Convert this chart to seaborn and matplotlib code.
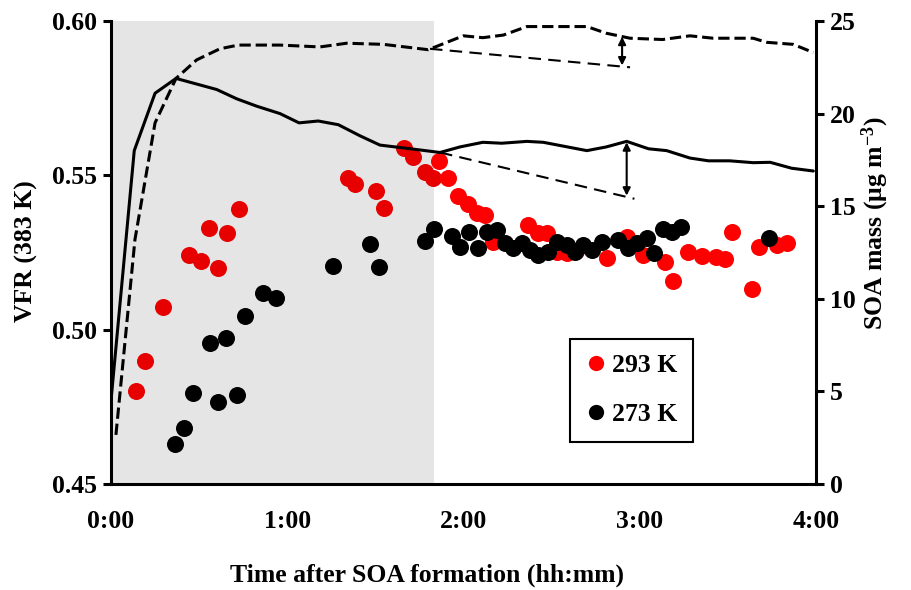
import numpy as np
import pandas as pd
import matplotlib
matplotlib.use("Agg")
import matplotlib.pyplot as plt
from matplotlib.lines import Line2D
import seaborn as sns

# ---------------- data ----------------
solid_time = [0.0, 0.132, 0.25, 0.369, 0.60, 0.713, 0.827, 0.959, 1.067, 1.176, 1.29,
              1.413, 1.526, 1.70, 1.867, 1.98, 2.11, 2.217, 2.36, 2.453, 2.70, 2.81,
              2.926, 3.05, 3.153, 3.285, 3.39, 3.51, 3.644, 3.74, 3.862, 3.985]
solid_mass = [4.5, 18.0, 21.1, 21.9, 21.3, 20.8, 20.4, 20.0, 19.5, 19.6, 19.4,
              18.8, 18.3, 18.1, 17.9, 18.2, 18.45, 18.4, 18.5, 18.45, 18.0, 18.2,
              18.5, 18.1, 18.0, 17.6, 17.45, 17.45, 17.35, 17.37, 17.05, 16.9]

dash_time = [0.028, 0.136, 0.25, 0.369, 0.486, 0.618, 0.722, 0.959, 1.186, 1.337, 1.545,
             1.80, 1.999, 2.11, 2.226, 2.36, 2.70, 2.81, 2.945, 3.13, 3.285, 3.417,
             3.644, 3.72, 3.87, 3.985]
dash_mass = [2.65, 13.2, 19.5, 21.9, 22.9, 23.5, 23.7, 23.7, 23.6, 23.8, 23.74,
             23.45, 24.2, 24.1, 24.24, 24.7, 24.7, 24.34, 24.07, 24.0, 24.2, 24.07,
             24.07, 23.85, 23.74, 23.3]

red_time = [0.144, 0.195, 0.293, 0.444, 0.511, 0.558, 0.609, 0.656, 0.728, 1.343, 1.384,
            1.502, 1.549, 1.662, 1.712, 1.782, 1.825, 1.863, 1.914, 1.967, 2.024, 2.075,
            2.122, 2.169, 2.368, 2.424, 2.472, 2.529, 2.586, 2.64, 2.813, 2.926, 3.02,
            3.143, 3.19, 3.274, 3.351, 3.433, 3.484, 3.522, 3.635, 3.677, 3.78, 3.834]
red_vfr = [0.4801, 0.4899, 0.5074, 0.5243, 0.5223, 0.5328, 0.5199, 0.5312, 0.5391, 0.5490,
           0.5471, 0.5449, 0.5393, 0.5588, 0.5558, 0.5512, 0.5492, 0.5547, 0.5492, 0.5433,
           0.5406, 0.5377, 0.5371, 0.5285, 0.5339, 0.5312, 0.5312, 0.5253, 0.5247, 0.5255,
           0.5231, 0.5301, 0.5242, 0.5220, 0.5158, 0.5253, 0.5239, 0.5236, 0.5228, 0.5318,
           0.5131, 0.5269, 0.5274, 0.5280]

black_time = [0.365, 0.414, 0.467, 0.605, 0.715, 0.562, 0.651, 0.760, 0.861, 0.934, 1.258,
              1.470, 1.519, 1.783, 1.833, 1.933, 1.98, 2.031, 2.082, 2.132, 2.188, 2.235,
              2.283, 2.33, 2.377, 2.424, 2.481, 2.529, 2.586, 2.633, 2.68, 2.727, 2.784,
              2.878, 2.935, 2.983, 3.039, 3.081, 3.134, 3.181, 3.235, 3.733]
black_vfr = [0.4629, 0.4681, 0.4794, 0.4767, 0.4788, 0.4958, 0.4972, 0.5045, 0.5118, 0.5102,
             0.5206, 0.5278, 0.5204, 0.5287, 0.5326, 0.5303, 0.5268, 0.5317, 0.5264, 0.5317,
             0.5323, 0.5280, 0.5264, 0.5280, 0.5258, 0.5242, 0.5253, 0.5285, 0.5274, 0.5253,
             0.5274, 0.5258, 0.5285, 0.5290, 0.5264, 0.5280, 0.5296, 0.5247, 0.5325, 0.5317,
             0.5334, 0.5296]

shade_end = 1.833
trend_upper_t = [1.81, 2.945]
trend_upper_m = [23.5, 22.5]
trend_lower_t = [1.867, 2.97]
trend_lower_m = [17.9, 15.4]
arrow_upper = (2.90, 24.15, 22.6)
arrow_lower = (2.926, 18.45, 15.57)

x_ticks = [0, 1, 2, 3, 4]
x_tick_labels = ["0:00", "1:00", "2:00", "3:00", "4:00"]
vfr_ticks = [0.45, 0.50, 0.55, 0.60]
vfr_tick_labels = ["0.45", "0.50", "0.55", "0.60"]
mass_ticks = [0, 5, 10, 15, 20, 25]
series_names = ["293 K", "273 K"]

# ---------------- style ----------------
sns.set_theme(style="white")
plt.rcParams["font.family"] = ["Liberation Serif", "DejaVu Serif"]
plt.rcParams["font.weight"] = "bold"
plt.rcParams["axes.labelweight"] = "bold"
plt.rcParams["text.color"] = "black"
plt.rcParams["axes.labelcolor"] = "black"
plt.rcParams["xtick.color"] = "black"
plt.rcParams["ytick.color"] = "black"
plt.rcParams["mathtext.fontset"] = "custom"
plt.rcParams["mathtext.rm"] = "Liberation Serif:bold"
plt.rcParams["mathtext.bf"] = "Liberation Serif:bold"
plt.rcParams["mathtext.default"] = "regular"

FS = 18.5
RED_IN = "#E60000"
RED_OUT = "#FF0000"

fig = plt.figure(figsize=(9.12, 5.90), dpi=100)
ax = fig.add_axes([0.1217, 0.1797, 0.7730, 0.7847])
ax2 = ax.twinx()

ax.axvspan(0, shade_end, color="#E5E5E5", zorder=0, lw=0)

red_df = pd.DataFrame({"t": red_time, "vfr": red_vfr})
black_df = pd.DataFrame({"t": black_time, "vfr": black_vfr})
red_in = red_df[red_df["t"] <= shade_end]
red_out = red_df[red_df["t"] > shade_end]

sns.scatterplot(data=red_in, x="t", y="vfr", color=RED_IN, s=150, linewidth=0, ax=ax, zorder=2)
sns.scatterplot(data=red_out, x="t", y="vfr", color=RED_OUT, s=150, linewidth=0, ax=ax, zorder=2)
sns.scatterplot(data=black_df, x="t", y="vfr", color="black", s=150, linewidth=0, ax=ax, zorder=3)

sns.lineplot(x=solid_time, y=solid_mass, ax=ax2, color="black", lw=2.2, estimator=None, sort=False)
sns.lineplot(x=dash_time, y=dash_mass, ax=ax2, color="black", lw=2.2, estimator=None, sort=False,
             linestyle="--")
ax2.plot(trend_upper_t, trend_upper_m, color="black", lw=1.5, dashes=(6, 3.5))
ax2.plot(trend_lower_t, trend_lower_m, color="black", lw=1.5, dashes=(6, 3.5))
for (t, m0, m1) in [arrow_upper, arrow_lower]:
    ax2.annotate("", xy=(t, m1), xytext=(t, m0),
                 arrowprops=dict(arrowstyle="<|-|>", lw=1.5, color="black",
                                 mutation_scale=11, shrinkA=0, shrinkB=0))

ax.set_xlim(0, 4)
ax.set_ylim(0.45, 0.60)
ax2.set_ylim(0, 25)

ax.set_xticks(x_ticks)
ax.set_xticklabels(x_tick_labels, fontsize=FS, fontweight="bold")
ax.set_yticks(vfr_ticks)
ax.set_yticklabels(vfr_tick_labels, fontsize=FS, fontweight="bold")
ax2.set_yticks(mass_ticks)
ax2.set_yticklabels([str(v) for v in mass_ticks], fontsize=FS, fontweight="bold")

ax.tick_params(axis="x", direction="inout", length=11, width=2.2, pad=13, colors="black")
ax.tick_params(axis="y", direction="out", length=6, width=2.2, pad=4, colors="black")
ax2.tick_params(axis="y", direction="out", length=6, width=2.2, pad=4, colors="black")

for a in (ax, ax2):
    a.spines["top"].set_visible(False)
    for s in a.spines.values():
        s.set_linewidth(2.2)
        s.set_color("black")
ax2.spines["left"].set_visible(False)
ax2.spines["bottom"].set_visible(False)
ax.spines["right"].set_visible(False)

ax.set_xlabel("Time after SOA formation (hh:mm)", fontsize=FS, fontweight="bold")
ax.set_ylabel("VFR (383 K)", fontsize=FS, fontweight="bold")
ax2.set_ylabel("SOA mass (μg m$^{-3}$)", fontsize=FS, fontweight="bold")
ax.xaxis.set_label_coords(0.448, -0.172)
ax.yaxis.set_label_coords(-0.104, 0.503)
ax2.yaxis.set_label_coords(1.062, 0.564)

handles = [Line2D([], [], marker="o", ls="", color=RED_OUT, ms=11, mew=0),
           Line2D([], [], marker="o", ls="", color="black", ms=11, mew=0)]
leg = ax2.legend(handles, series_names, loc="upper left", bbox_to_anchor=(0.651, 0.313),
                 prop={"family": "Liberation Serif", "weight": "bold", "size": FS},
                 frameon=True, fancybox=False, edgecolor="black", framealpha=1,
                 borderpad=0.6, labelspacing=1.0, handlelength=0.8, handletextpad=0.25,
                 borderaxespad=0)
leg.get_frame().set_linewidth(1.5)

fig.savefig("out.png", dpi=100)
